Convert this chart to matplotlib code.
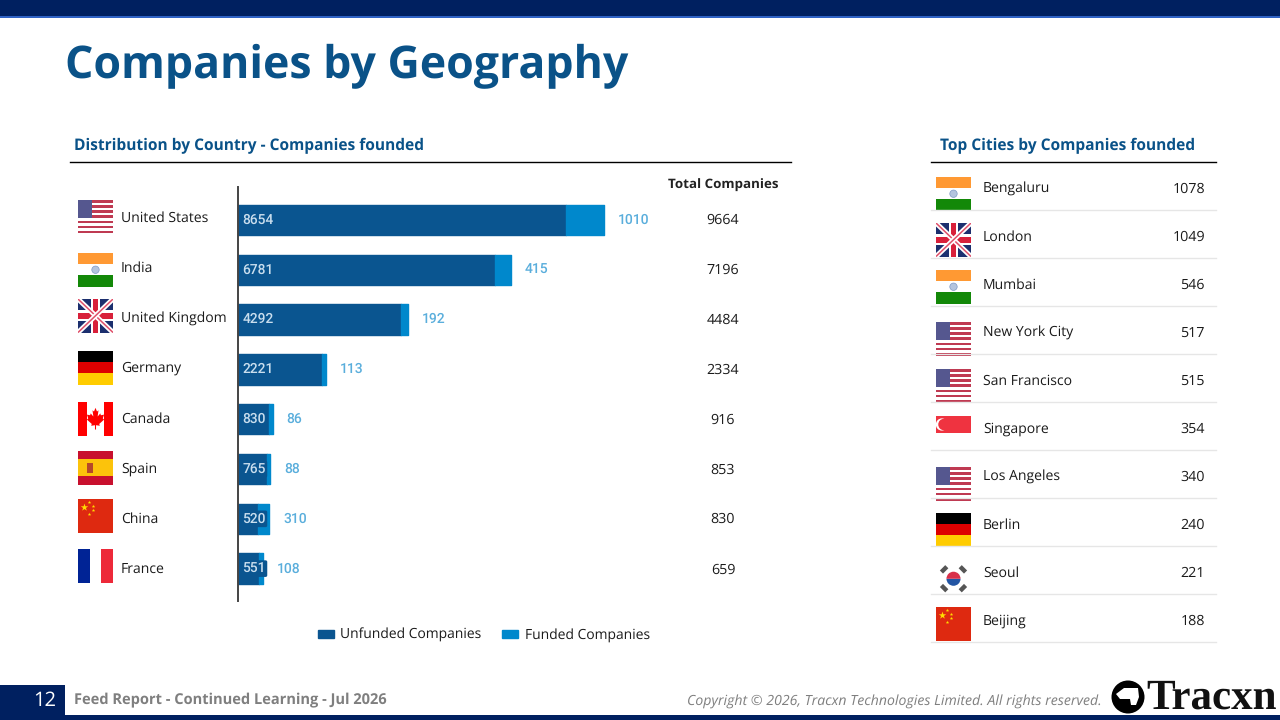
import matplotlib
matplotlib.use("Agg")
import matplotlib.pyplot as plt
from matplotlib.patches import Rectangle, Circle, Polygon, Wedge, Patch

plt.rcParams["font.family"] = ["Open Sans", "DejaVu Sans"]
plt.rcParams["text.hinting"] = "no_hinting"

countries = ["United States", "India", "United Kingdom", "Germany", "Canada", "Spain", "China", "France"]
unfunded = [8654, 6781, 4292, 2221, 830, 765, 520, 551]
funded = [1010, 415, 192, 113, 86, 88, 310, 108]
totals = [9664, 7196, 4484, 2334, 916, 853, 830, 659]
country_flags = ["us", "in", "uk", "de", "ca", "es", "cn", "fr"]

cities = ["Bengaluru", "London", "Mumbai", "New York City", "San Francisco", "Singapore",
          "Los Angeles", "Berlin", "Seoul", "Beijing"]
city_counts = [1078, 1049, 546, 517, 515, 354, 340, 240, 221, 188]
city_flags = ["in", "uk", "in", "us", "us", "sg", "us", "de", "kr", "cn"]

NAVY = "#002060"
BLUE = "#0a5590"
LIGHT = "#0088cc"
HEAD = "#0a5288"

fig = plt.figure(figsize=(12.8, 7.2), dpi=100)
# pixel canvas for everything that is not the bar chart
bg = fig.add_axes([0, 0, 1, 1])
bg.set_xlim(0, 1280)
bg.set_ylim(720, 0)
bg.axis("off")


def rect(x, y, w, h, color, **kw):
    bg.add_patch(Rectangle((x, y), w, h, facecolor=color, edgecolor="none", **kw))


def flag_us(x, y, w, h):
    rect(x, y, w, h, "white")
    for i in range(7):
        rect(x, y + i * 2 * h / 13, w, h / 13, "#bf3a52")
    rect(x, y, w * 0.4, h * 7 / 13, "#55578f")


def flag_in(x, y, w, h):
    rect(x, y, w, h / 3, "#ff9933")
    rect(x, y + 2 * h / 3, w, h / 3, "#138808")
    bg.add_patch(Circle((x + w / 2, y + h / 2), h * 0.11, facecolor="#b4c4de", edgecolor="#7f98c4", lw=0.5))


def flag_uk(x, y, w, h):
    box = Rectangle((x, y), w, h, facecolor="#1c2f6e", edgecolor="none")
    bg.add_patch(box)
    for xs, ys in (([x, x + w], [y, y + h]), ([x, x + w], [y + h, y])):
        line, = bg.plot(xs, ys, color="white", lw=3.6, solid_capstyle="butt")
        line.set_clip_path(box)
        line, = bg.plot(xs, ys, color="#e0506a", lw=1.1, solid_capstyle="butt")
        line.set_clip_path(box)
    rect(x + w * 0.38, y, w * 0.24, h, "white")
    rect(x, y + h * 0.34, w, h * 0.32, "white")
    rect(x + w * 0.44, y, w * 0.12, h, "#d8203a")
    rect(x, y + h * 0.41, w, h * 0.18, "#d8203a")


def flag_de(x, y, w, h):
    rect(x, y, w, h / 3, "black")
    rect(x, y + h / 3, w, h / 3, "#dd0000")
    rect(x, y + 2 * h / 3, w, h / 3, "#ffcc00")


def flag_ca(x, y, w, h):
    rect(x, y, w * 0.25, h, "#ff0000")
    rect(x + w * 0.75, y, w * 0.25, h, "#ff0000")
    leaf = [(0, -.8), (.14, -.5), (.28, -.6), (.2, -.1), (.45, -.35), (.5, -.2), (.8, -.25), (.68, .05),
            (.8, .15), (.35, .5), (.4, .65), (.05, .6), (.05, .95), (-.05, .95), (-.05, .6), (-.4, .65),
            (-.35, .5), (-.8, .15), (-.68, .05), (-.8, -.25), (-.5, -.2), (-.45, -.35), (-.2, -.1),
            (-.28, -.6), (-.14, -.5)]
    bg.add_patch(Polygon([(x + w / 2 + px * h * 0.32, y + h * 0.47 + py * h * 0.37) for px, py in leaf],
                         facecolor="#ff0000", edgecolor="none"))


def flag_es(x, y, w, h):
    rect(x, y, w, h, "#c8102e")
    rect(x, y + h / 4, w, h / 2, "#fcc30b")
    rect(x + w * 0.25, y + h * 0.36, w * 0.17, h * 0.3, "#b5482a")


def flag_cn(x, y, w, h):
    rect(x, y, w, h, "#de2910")
    bg.scatter([x + w * 0.16], [y + h * 0.24], marker="*", s=32, color="#ffde00", linewidths=0)
    for fx, fy in ((0.32, 0.08), (0.42, 0.2), (0.42, 0.34), (0.32, 0.44)):
        bg.scatter([x + w * fx], [y + h * fy], marker="*", s=7, color="#ffde00", linewidths=0)


def flag_fr(x, y, w, h):
    rect(x, y, w / 3, h, "#002395")
    rect(x + 2 * w / 3, y, w / 3, h, "#ed2939")


def flag_sg(x, y, w, h):
    rect(x, y, w, h, "#ef3340")
    bg.add_patch(Circle((x + w * 0.17, y + h * 0.5), h * 0.36, facecolor="white", edgecolor="none"))
    bg.add_patch(Circle((x + w * 0.23, y + h * 0.5), h * 0.34, facecolor="#ef3340", edgecolor="none"))


def flag_kr(x, y, w, h):
    cx, cy = x + w / 2, y + h / 2
    bg.add_patch(Wedge((cx, cy), h * 0.21, 0, 180, facecolor="#2255a4", edgecolor="none"))
    bg.add_patch(Wedge((cx, cy), h * 0.21, 180, 360, facecolor="#d8304a", edgecolor="none"))
    d = h * 0.08
    for dx, dy, sign in ((-.28, -.28, 1), (.28, -.28, -1), (-.28, .28, -1), (.28, .28, 1)):
        tx, ty = cx + dx * h, cy + dy * h
        bg.plot([tx - d, tx + d], [ty + sign * d, ty - sign * d], color="#555555", lw=3.2, solid_capstyle="butt")


FLAGS = {"us": flag_us, "in": flag_in, "uk": flag_uk, "de": flag_de, "ca": flag_ca,
         "es": flag_es, "cn": flag_cn, "fr": flag_fr, "sg": flag_sg, "kr": flag_kr}

# header and footer bands
rect(0, 0, 1280, 16, NAVY)
rect(0, 16, 1280, 1.5, "#2f62c4")
rect(0, 715, 1280, 5, NAVY)
rect(0, 685, 65, 35, NAVY)

bg.text(65, 66.5, "Companies by Geography", fontsize=32.1, fontweight="bold", color=HEAD, va="center")
bg.text(74.5, 146, "Distribution by Country - Companies founded", fontsize=11.2, fontweight="bold", color=HEAD, va="center")
bg.text(940, 146, "Top Cities by Companies founded", fontsize=11.2, fontweight="bold", color=HEAD, va="center")
bg.plot([70, 791], [162, 162], color="black", lw=1)
bg.plot([931, 1216], [162, 162], color="black", lw=1)
bg.text(723, 185, "Total Companies", fontsize=9.6, fontweight="bold", color="#222222", ha="center", va="center")

# left column of the country table
flag_top = [200, 253, 299, 351, 402, 451, 499, 549]
label_y = [218.5, 268.5, 318.5, 368.5, 419.5, 469.5, 519.5, 569.5]
total_y = [220.5, 270.5, 320.5, 370, 420, 470, 519.5, 570]
for i, name in enumerate(countries):
    FLAGS[country_flags[i]](78, flag_top[i], 35, 33.5)
    bg.text(121, label_y[i], name, fontsize=10.1, color="#1a1a1a", va="center")
    bg.text(723, total_y[i], str(totals[i]), fontsize=10.3, color="#1a1a1a", ha="center", va="center")

# cities table
city_top = [177, 223, 270, 322, 369, 416, 467, 513, 562, 607]
for i, name in enumerate(cities):
    row_y = 189 + i * 48
    if city_flags[i] == "sg":
        FLAGS["sg"](936, city_top[i], 35, 17)
    else:
        FLAGS[city_flags[i]](936, city_top[i], 35, 33.5)
    bg.text(983, row_y, name, fontsize=10.1, color="#1a1a1a", va="center")
    bg.text(1205, row_y, str(city_counts[i]), fontsize=10.3, color="#1a1a1a", ha="right", va="center")
    bg.plot([931, 1216], [210 + i * 48] * 2, color="#e6e6e6", lw=1)

# bar chart, 0.03787 px per company
ax = fig.add_axes([238 / 1280, 1 - 601 / 720, 422 / 1280, 414 / 720])
ax.patch.set_alpha(0)
ypos = list(range(len(countries)))
unfunded_bars = ax.barh(ypos, unfunded, height=0.61, color=BLUE, edgecolor=BLUE, linewidth=1, label="Unfunded Companies")
funded_bars = ax.barh(ypos, funded, left=unfunded, height=0.61, color=LIGHT, edgecolor=LIGHT, linewidth=1,
                      label="Funded Companies")
for bar in list(unfunded_bars) + list(funded_bars):
    bar.set_joinstyle("round")
ax.set_xlim(0, 422 / 0.03787)
ax.set_ylim(7.65, -0.663)
ax.set_xticks([])
ax.set_yticks([])
for side in ("top", "right", "bottom"):
    ax.spines[side].set_visible(False)
ax.spines["left"].set_color("#444444")
ax.spines["left"].set_linewidth(1.4)
for i in ypos:
    ax.annotate(str(unfunded[i]), (0, i), xytext=(3, 0), textcoords="offset points", fontsize=9.9,
                family="Roboto", fontweight="medium", color="#c9deee", va="center",
                bbox=dict(boxstyle="round,pad=0.12", fc=BLUE, ec="none"))
    ax.annotate(str(funded[i]), (unfunded[i] + funded[i], i), xytext=(10, 0), textcoords="offset points",
                fontsize=10, family="Roboto", fontweight="medium", color="#5aaedc", va="center")

bg.legend(handles=[Patch(color=BLUE, label="Unfunded Companies"), Patch(color=LIGHT, label="Funded Companies")],
          loc="center", bbox_to_anchor=(484 / 1280, 1 - 635 / 720), bbox_transform=fig.transFigure, ncol=2, frameon=False,
          fontsize=10, handlelength=1.15, handleheight=0.5, handletextpad=0.45, columnspacing=1.5,
          labelcolor="#1a1a1a")

# footer
bg.text(45, 701, "12", fontsize=14.5, color="white", ha="center", va="center")
bg.text(74, 700.5, "Feed Report - Continued Learning - Jul 2026", fontsize=10.55, fontweight="bold", color="#7f7f7f", va="center")
bg.text(1102, 701.5, "Copyright © 2026, Tracxn Technologies Limited. All rights reserved.", fontsize=10.15,
        style="italic", color="#7f7f7f", ha="right", va="center")
bg.add_patch(Circle((1128, 697), 16.5, facecolor="black", edgecolor="none"))
bg.add_patch(Polygon([(1116, 694), (1124, 688), (1138, 688), (1139, 697), (1136, 705), (1131, 705), (1130, 699), (1120, 699)],
                     facecolor="white", edgecolor="none"))
bg.text(1146, 698, "Tracxn", fontsize=31, fontweight="bold", family="Liberation Serif", color="#111111", va="center")

fig.savefig("out.png", dpi=100)
